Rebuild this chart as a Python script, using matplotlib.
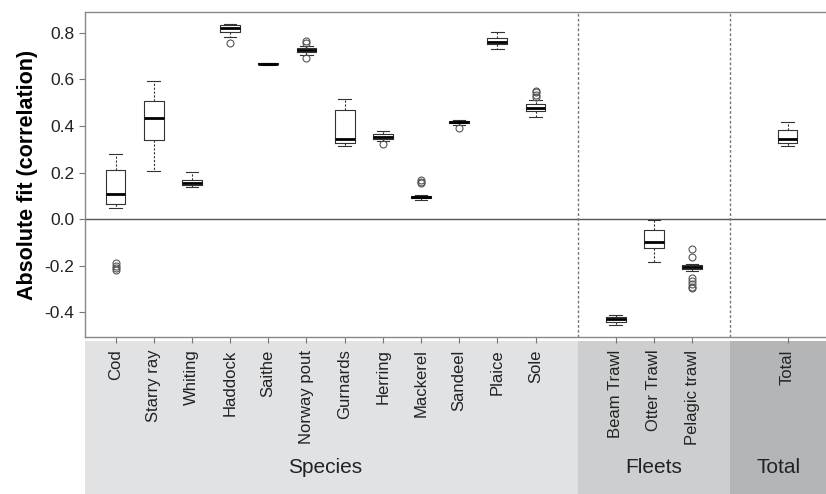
import matplotlib
matplotlib.use("Agg")
import matplotlib.pyplot as plt
import numpy as np

plt.rcParams['font.family'] = ['Liberation Sans', 'DejaVu Sans']

# ---- data ----
species = ["Cod", "Starry ray", "Whiting", "Haddock", "Saithe", "Norway pout",
           "Gurnards", "Herring", "Mackerel", "Sandeel", "Plaice", "Sole"]
fleets = ["Beam Trawl", "Otter Trawl", "Pelagic trawl"]
total = ["Total"]

whis_lo = [0.046, 0.205, 0.139, 0.781, 0.662, 0.705, 0.314, 0.335, 0.082, 0.405, 0.731, 0.440,
           -0.456, -0.184, -0.222, 0.314]
q1 = [0.063, 0.340, 0.146, 0.804, 0.665, 0.720, 0.325, 0.345, 0.090, 0.412, 0.751, 0.466,
      -0.442, -0.126, -0.214, 0.326]
med = [0.108, 0.436, 0.156, 0.823, 0.667, 0.727, 0.344, 0.354, 0.096, 0.417, 0.763, 0.476,
       -0.431, -0.100, -0.205, 0.345]
q3 = [0.209, 0.506, 0.168, 0.833, 0.669, 0.734, 0.469, 0.364, 0.100, 0.421, 0.777, 0.495,
      -0.423, -0.047, -0.198, 0.381]
whis_hi = [0.278, 0.592, 0.202, 0.839, 0.671, 0.745, 0.517, 0.380, 0.105, 0.425, 0.803, 0.510,
           -0.413, -0.004, -0.194, 0.416]
fliers = [[-0.19, -0.20, -0.21, -0.22], [], [], [0.756], [], [0.692, 0.758, 0.766],
          [], [0.321], [0.155, 0.160, 0.168], [0.393], [], [0.526, 0.535, 0.545, 0.552],
          [], [], [-0.130, -0.165, -0.254, -0.265, -0.280, -0.290, -0.297], []]

groups = ["Species", "Fleets", "Total"]
group_colors = ["#e1e2e4", "#cdcecf", "#b4b5b7"]

# ---- positions ----
pos_species = np.arange(1, len(species) + 1)
sep1 = pos_species[-1] + 1.1
pos_fleets = sep1 + 1 + np.arange(len(fleets))
sep2 = pos_fleets[-1] + 1
pos_total = np.array([sep2 + 1.5])
positions = np.concatenate([pos_species, pos_fleets, pos_total])
labels = species + fleets + total
x_left, x_right = 0.2, pos_total[-1] + 1.05

stats = []
for i in range(len(labels)):
    stats.append(dict(med=med[i], q1=q1[i], q3=q3[i], whislo=whis_lo[i],
                      whishi=whis_hi[i], fliers=fliers[i], label=labels[i]))

fig = plt.figure(figsize=(8.26, 4.94), dpi=100)
ax = fig.add_axes([85 / 826, 1 - 337 / 494, 1 - 85 / 826 + 0.002, (337 - 12) / 494])
ax.set_zorder(2)

line_c = "#333333"
ax.bxp(stats, positions=positions, widths=0.52, capwidths=0.33,
       boxprops=dict(color=line_c, linewidth=0.8),
       medianprops=dict(color="black", linewidth=2.0),
       whiskerprops=dict(color=line_c, linewidth=0.8, linestyle=(0, (2, 1.5))),
       capprops=dict(color=line_c, linewidth=0.8),
       flierprops=dict(marker="o", markerfacecolor="none", markeredgecolor="#555555",
                       markersize=5, markeredgewidth=0.8))

ax.axhline(0, color="#555555", linewidth=1.0, zorder=0)
for s in (sep1, sep2):
    ax.axvline(s, color="#777777", linewidth=1.0, linestyle=(0, (2, 1.5)), zorder=0)

ax.set_xlim(x_left, x_right)
ax.set_ylim(-0.507, 0.89)
ax.set_yticks([-0.4, -0.2, 0.0, 0.2, 0.4, 0.6, 0.8])
ax.set_yticklabels(["-0.4", "-0.2", "0.0", "0.2", "0.4", "0.6", "0.8"])
ax.set_xticks(positions)
ax.set_xticklabels(labels, rotation=90, fontsize=12, color="#222222", va="top")
ax.tick_params(axis="x", length=4, color="#777777", pad=5)
ax.tick_params(axis="y", length=4, color="#777777", labelsize=12.5, labelcolor="#222222")
for sp in ax.spines.values():
    sp.set_color("#888888")
    sp.set_linewidth(1.0)
ax.set_ylabel("Absolute fit (correlation)", fontsize=15.5, fontweight="bold", labelpad=5)

# ---- grey group bands under the axis ----
band = fig.add_axes([85 / 826, 0, 1 - 85 / 826 + 0.002, (494 - 341) / 494])
band.set_zorder(1)
band.set_xlim(x_left, x_right)
band.set_ylim(0, 1)
band.axis("off")
edges = [x_left, sep1, sep2, x_right]
for i, g in enumerate(groups):
    band.axvspan(edges[i], edges[i + 1], color=group_colors[i], linewidth=0)
    band.text((edges[i] + edges[i + 1]) / 2 - (0.15 if i == 0 else 0), 0.175, g,
              ha="center", va="center", fontsize=15, color="#222222",
              family=["Liberation Sans Narrow", "Liberation Sans", "DejaVu Sans"])

fig.savefig("out.png", dpi=100)
